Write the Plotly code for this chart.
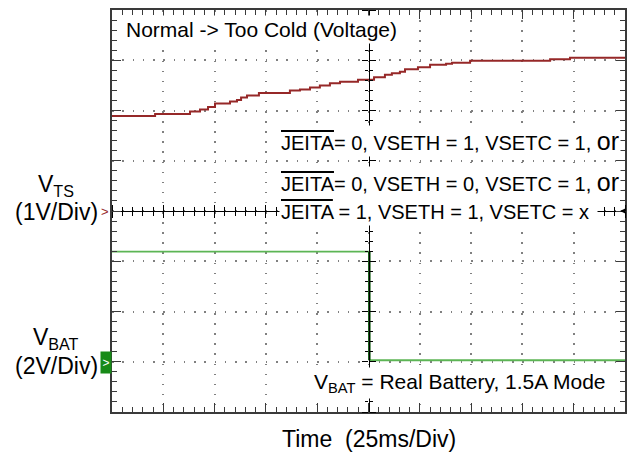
import plotly.graph_objects as go

# ---------------- data (read from the scope capture) ----------------
# V_TS channel, 1 V/div, ground marker at the centre division
VTS_T_MS = [0, 21.0, 38.0, 42.9, 46.8, 50.2, 57.5, 60.9, 62.9, 65.8, 71.6, 86.7,
            91.6, 96.5, 101.3, 106.2, 111.1, 119.9, 127.7, 133.0, 136.4, 140.3,
            142.8, 149.1, 155.0, 162.8, 165.7, 174.5, 213.5, 223.2, 250]
VTS_V = [1.89, 1.93, 1.98, 2.02, 2.07, 2.14, 2.18, 2.21, 2.26, 2.30, 2.35, 2.40,
         2.42, 2.46, 2.50, 2.54, 2.57, 2.61, 2.66, 2.71, 2.74, 2.77,
         2.82, 2.86, 2.91, 2.93, 2.95, 2.99, 3.02, 3.05, 3.05]

# V_BAT channel, 2 V/div, ground marker 3 divisions below centre
VBAT_T_MS = [0, 125.4, 125.4, 250]
VBAT_V = [4.38, 4.38, 0.06, 0.06]

TIME_PER_DIV_MS = 25
N_XDIV = 10
N_YDIV = 8
VTS_V_PER_DIV = 1
VTS_GROUND_DIV = 0
VBAT_V_PER_DIV = 2
VBAT_GROUND_DIV = -3

TITLE_TEXT = "Normal -&gt; Too Cold (Voltage)"
COND_LINES = [
    ("0", "1", "1", True),
    ("0", "0", "1", True),
    ("1", "1", "x", False),
]
VTS_LABEL = ["V<sub>TS</sub>", "(1V/Div)"]
VBAT_LABEL = ["V<sub>BAT</sub>", "(2V/Div)"]
VBAT_NOTE = "V<sub>BAT</sub> = Real Battery, 1.5A Mode"
XLABEL = "Time\u00a0\u00a0(25ms/Div)"

# ---------------- styling ----------------
FONT = "Liberation Sans, Arial, Helvetica, sans-serif"
FRAME = "#3a3a3a"
GRID = "#808080"
VTS_COLOR = "#962828"
VBAT_COLOR = "#5cb555"
EDGE_COLOR = "#0d560d"

X_MAX = TIME_PER_DIV_MS * N_XDIV
Y_HALF = N_YDIV / 2

vts_y = [VTS_GROUND_DIV + v / VTS_V_PER_DIV for v in VTS_V]
vbat_y = [VBAT_GROUND_DIV + v / VBAT_V_PER_DIV for v in VBAT_V]

fig = go.Figure()

# V_TS trace
fig.add_trace(go.Scatter(x=VTS_T_MS, y=vts_y, mode="lines", line_shape="hv",
                         line=dict(color=VTS_COLOR, width=2), hoverinfo="skip",
                         showlegend=False))
# V_BAT flat parts
fig.add_trace(go.Scatter(x=[VBAT_T_MS[0], VBAT_T_MS[1], None, VBAT_T_MS[2], VBAT_T_MS[3]],
                         y=[vbat_y[0], vbat_y[1], None, vbat_y[2], vbat_y[3]],
                         mode="lines", line=dict(color=VBAT_COLOR, width=1.8),
                         hoverinfo="skip", showlegend=False))
# V_BAT falling edge
fig.add_trace(go.Scatter(x=VBAT_T_MS[1:3], y=vbat_y[1:3], mode="lines",
                         line=dict(color=EDGE_COLOR, width=2.5),
                         hoverinfo="skip", showlegend=False))
# dummy traces to attach the centre cross-hair axes
for xa, ya in (("x2", "y2"), ("x3", "y3")):
    fig.add_trace(go.Scatter(x=[None], y=[None], xaxis=xa, yaxis=ya,
                             hoverinfo="skip", showlegend=False))

common = dict(showticklabels=False, zeroline=False, fixedrange=True)

xaxis = dict(range=[0, X_MAX], domain=[0, 1], showline=True, linecolor=FRAME,
             linewidth=1.5, mirror="allticks", ticks="inside", ticklen=9,
             tickwidth=1.2, tickcolor=FRAME, tick0=0, dtick=TIME_PER_DIV_MS,
             showgrid=True, gridcolor=GRID, gridwidth=1.5, griddash="1.5px,8.6px",
             minor=dict(ticks="inside", ticklen=5, tickwidth=1, tickcolor=FRAME,
                        tick0=0, dtick=TIME_PER_DIV_MS / 5, showgrid=False),
             **common)
yaxis = dict(range=[-Y_HALF, Y_HALF], domain=[0, 1], showline=True, linecolor=FRAME,
             linewidth=1.5, mirror="allticks", ticks="inside", ticklen=9,
             tickwidth=1.2, tickcolor=FRAME, tick0=0, dtick=1,
             showgrid=True, gridcolor=GRID, gridwidth=1.5, griddash="1.5px,8.76px",
             minor=dict(ticks="inside", ticklen=5, tickwidth=1, tickcolor=FRAME,
                        tick0=0, dtick=0.2, showgrid=False),
             **common)

def cross_x(side):
    return dict(overlaying="x", anchor="free", position=0.5, side=side,
                range=[0, X_MAX], showline=True, linecolor="black", linewidth=1.2,
                ticks="outside", ticklen=6, tickwidth=1.2, tickcolor="black",
                tick0=0, dtick=TIME_PER_DIV_MS, showgrid=False,
                minor=dict(ticks="outside", ticklen=3.5, tickwidth=1, tickcolor="black",
                           tick0=0, dtick=TIME_PER_DIV_MS / 5, showgrid=False),
                **common)

def cross_y(side):
    return dict(overlaying="y", anchor="free", position=0.5, side=side,
                range=[-Y_HALF, Y_HALF], showline=True, linecolor="black", linewidth=1.2,
                ticks="outside", ticklen=6, tickwidth=1.2, tickcolor="black",
                tick0=0, dtick=1, showgrid=False,
                minor=dict(ticks="outside", ticklen=3.5, tickwidth=1, tickcolor="black",
                           tick0=0, dtick=0.2, showgrid=False),
                **common)

W, H = 636, 454
ML, MR, MT, MB = 112, 11, 8, 42
PW, PH = W - ML - MR, H - MT - MB

def px(x):
    return (x - ML) / PW

def py(y):
    return (H - MB - y) / PH

ann = []
ann.append(dict(text=TITLE_TEXT, x=px(123), y=py(27.5), xref="paper", yref="paper",
                xanchor="left", yanchor="middle", showarrow=False, bgcolor="white",
                borderpad=2, font=dict(family=FONT, size=21, color="black")))

cond_y = [139.5, 181, 208.5]
for (j, h, c, orr), yy in zip(COND_LINES, cond_y):
    if orr:
        t = ('<span style="text-decoration:overline">JEITA</span>= ' + j +
             ', VSETH = ' + h + ', VSETC = ' + c +
             ', <span style="font-size:25px">or</span>')
    else:
        t = ('<span style="text-decoration:overline">JEITA</span> = ' + j +
             ', VSETH = ' + h + ', VSETC = ' + c +
             '<span style="font-size:25px">\u00a0</span>')
    ann.append(dict(text=t, x=px(279), y=py(yy), xref="paper", yref="paper",
                    xanchor="left", yanchor="middle", showarrow=False, bgcolor="white",
                    borderpad=1, font=dict(family=FONT, size=20, color="black")))

ann.append(dict(text=VBAT_NOTE, x=px(311), y=py(383), xref="paper", yref="paper",
                xanchor="left", yanchor="middle", showarrow=False, bgcolor="white",
                borderpad=2, font=dict(family=FONT, size=21, color="black")))

for txt, yy in ((VTS_LABEL[0], 184), (VTS_LABEL[1], 211),
                (VBAT_LABEL[0], 338), (VBAT_LABEL[1], 366)):
    ann.append(dict(text=txt, x=px(56), y=py(yy), xref="paper", yref="paper",
                    xanchor="center", yanchor="middle", showarrow=False,
                    font=dict(family=FONT, size=23, color="black")))

ann.append(dict(text=XLABEL, x=px(369), y=py(439), xref="paper", yref="paper",
                xanchor="center", yanchor="middle", showarrow=False,
                font=dict(family=FONT, size=23, color="black")))

# channel ground markers
ann.append(dict(text="&gt;", x=px(105), y=py(210), xref="paper",
                yref="paper", xanchor="center", yanchor="middle", showarrow=False,
                font=dict(family=FONT, size=13, color=VTS_COLOR)))
ann.append(dict(text="&gt;", x=px(106.3), y=py(362.5), xref="paper", yref="paper",
                xanchor="center", yanchor="middle", showarrow=False,
                bgcolor="#178a17", width=10, height=21, borderpad=0,
                font=dict(family=FONT, size=12, color="white")))
# trigger level marker
ann.append(dict(text="", x=px(620), y=py(210), xref="paper", yref="paper",
                showarrow=True, ax=7, ay=0, arrowhead=2, arrowsize=0.8,
                arrowwidth=1.3, arrowcolor="black"))

fig.update_layout(
    width=W, height=H, margin=dict(l=ML, r=MR, t=MT, b=MB),
    paper_bgcolor="white", plot_bgcolor="white",
    xaxis=xaxis, yaxis=yaxis,
    xaxis2=cross_x("bottom"), xaxis3=cross_x("top"),
    yaxis2=cross_y("left"), yaxis3=cross_y("right"),
    annotations=ann, showlegend=False,
)

fig.write_html("out.html", config={"displayModeBar": False},
               post_script="document.body.style.margin='0';document.body.style.padding='0';")
